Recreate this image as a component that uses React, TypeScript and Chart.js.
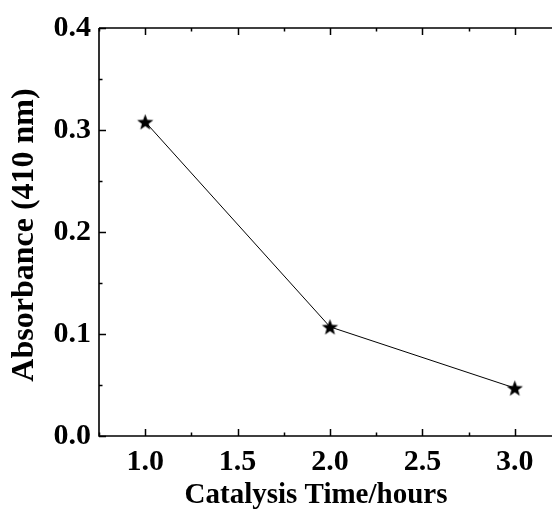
import React, { useEffect, useRef } from "react";
import { Chart, registerables } from "chart.js";

Chart.register(...registerables);

const catalysisHours = [1.0, 2.0, 3.0];
const absorbance = [0.308, 0.107, 0.047];
const xTickValues = [1.0, 1.5, 2.0, 2.5, 3.0];
const xMinorTicks = [0.75, 1.25, 1.75, 2.25, 2.75, 3.25];
const yTickValues = [0.0, 0.1, 0.2, 0.3, 0.4];
const yMinorTicks = [0.05, 0.15, 0.25, 0.35];
const xTitle = "Catalysis Time/hours";
const yTitle = "Absorbance (410 nm)";

const FONT = "'Liberation Serif', 'Times New Roman', serif";

function makeStar(r: number): HTMLCanvasElement {
  const size = Math.ceil(r * 2 + 2);
  const c = document.createElement("canvas");
  c.width = size;
  c.height = size;
  const ctx = c.getContext("2d")!;
  ctx.beginPath();
  for (let i = 0; i < 10; i++) {
    const rad = i % 2 === 0 ? r : r * 0.42;
    const a = -Math.PI / 2 + (i * Math.PI) / 5;
    const x = size / 2 + rad * Math.cos(a);
    const y = size / 2 + rad * Math.sin(a) + 0.8;
    if (i === 0) ctx.moveTo(x, y);
    else ctx.lineTo(x, y);
  }
  ctx.closePath();
  ctx.fillStyle = "#000";
  ctx.fill();
  return c;
}

const framePlugin = {
  id: "frame",
  afterDraw(chart: any) {
    const { ctx, chartArea } = chart;
    const xs = chart.scales.x;
    const ys = chart.scales.y;
    const { left, right, top, bottom } = chartArea;
    ctx.save();
    ctx.strokeStyle = "#000";
    ctx.lineWidth = 1.6;
    ctx.beginPath();
    ctx.moveTo(left, top);
    ctx.lineTo(right, top);
    ctx.lineTo(right, bottom);
    ctx.lineTo(left, bottom);
    ctx.lineTo(left, top);
    ctx.stroke();
    const major = 7;
    const minor = 3.5;
    ctx.lineWidth = 1.5;
    ctx.beginPath();
    const xt = (v: number, len: number) => {
      const px = Math.round(xs.getPixelForValue(v)) + 0.5;
      ctx.moveTo(px, bottom);
      ctx.lineTo(px, bottom - len);
      ctx.moveTo(px, top);
      ctx.lineTo(px, top + len);
    };
    const yt = (v: number, len: number) => {
      const py = Math.round(ys.getPixelForValue(v)) + 0.5;
      ctx.moveTo(left, py);
      ctx.lineTo(left + len, py);
      ctx.moveTo(right, py);
      ctx.lineTo(right - len, py);
    };
    xTickValues.forEach((v) => xt(v, major));
    xMinorTicks.forEach((v) => xt(v, minor));
    yTickValues.forEach((v) => yt(v, major));
    yMinorTicks.forEach((v) => yt(v, minor));
    ctx.stroke();

    // axis titles
    ctx.fillStyle = "#000";
    ctx.font = `bold 29px ${FONT}`;
    ctx.textAlign = "center";
    ctx.textBaseline = "alphabetic";
    ctx.fillText(xTitle, 316, 503);

    ctx.translate(25, 235);
    ctx.rotate(-Math.PI / 2);
    ctx.font = `bold 32px ${FONT}`;
    ctx.textBaseline = "middle";
    ctx.fillText(yTitle, 0, 0);
    ctx.restore();
  },
};

export default function App() {
  const ref = useRef<HTMLCanvasElement | null>(null);
  useEffect(() => {
    if (!ref.current) return;
    const star = makeStar(8.5);
    const chart = new Chart(ref.current, {
      type: "scatter",
      data: {
        datasets: [
          {
            data: catalysisHours.map((x, i) => ({ x, y: absorbance[i] })),
            showLine: true,
            borderColor: "#000",
            borderWidth: 1,
            pointStyle: star as any,
            pointRadius: 8,
            backgroundColor: "#000",
          },
        ],
      },
      options: {
        responsive: false,
        animation: false,
        devicePixelRatio: 1,
        layout: { padding: { top: 28, right: 0, left: 0, bottom: 0 } },
        plugins: {
          legend: { display: false },
          tooltip: { enabled: false },
        },
        scales: {
          x: {
            type: "linear",
            min: 0.75,
            max: 3.25,
            grid: { display: false, drawTicks: false },
            border: { display: false },
            afterBuildTicks: (s: any) => {
              s.ticks = xTickValues.map((v) => ({ value: v }));
            },
            afterFit: (s: any) => {
              s.height = 74;
            },
            ticks: {
              padding: 8,
              color: "#000",
              font: { family: FONT, size: 30, weight: "bold" },
              callback: (v: any) => Number(v).toFixed(1),
              maxRotation: 0,
            },
            title: { display: false, text: xTitle },
          },
          y: {
            type: "linear",
            min: 0,
            max: 0.4,
            grid: { display: false, drawTicks: false },
            border: { display: false },
            afterBuildTicks: (s: any) => {
              s.ticks = yTickValues.map((v) => ({ value: v }));
            },
            afterFit: (s: any) => {
              s.width = 99;
            },
            ticks: {
              padding: 8,
              color: "#000",
              font: { family: FONT, size: 30, weight: "bold" },
              callback: (v: any) => Number(v).toFixed(1),
            },
            title: { display: false, text: yTitle },
          },
        },
      },
      plugins: [framePlugin],
    });
    return () => chart.destroy();
  }, []);
  return (
    <div
      style={{
        position: "fixed",
        left: 0,
        top: 0,
        width: 552,
        height: 510,
        overflow: "hidden",
        background: "#fff",
      }}
    >
      <canvas ref={ref} width={570} height={510} style={{ display: "block" }} />
    </div>
  );
}
